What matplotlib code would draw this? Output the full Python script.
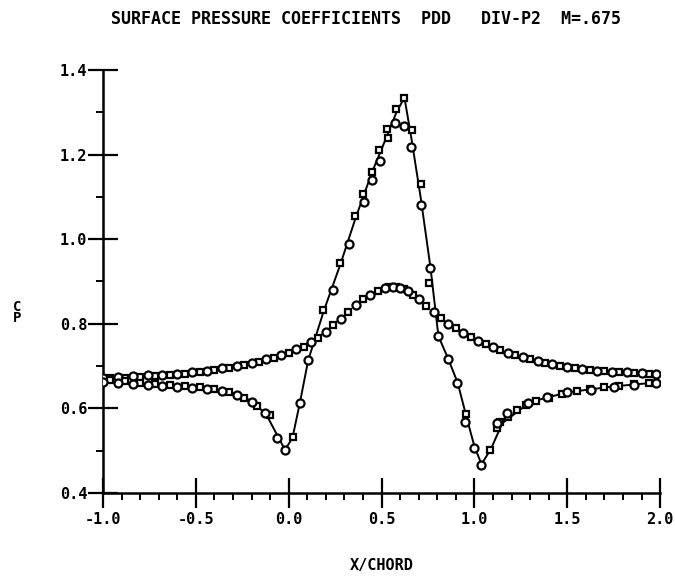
import matplotlib
matplotlib.use("Agg")
import matplotlib.pyplot as plt
from matplotlib.ticker import MultipleLocator, FixedLocator

# ---- data ----
title = "SURFACE PRESSURE COEFFICIENTS  PDD   DIV-P2  M=.675"
x_label = "X/CHORD"
y_label = "C\nP"
x_ticks = [-1.0, -0.5, 0.0, 0.5, 1.0, 1.5, 2.0]
y_ticks = [0.4, 0.6, 0.8, 1.0, 1.2, 1.4]

# computed curve (solid line)
x_line = [-1.0, -0.6, -0.3, -0.2, -0.12, -0.06, -0.02, 0.02, 0.06, 0.105, 0.19, 0.28,
          0.36, 0.45, 0.53, 0.58, 0.623, 0.66, 0.71, 0.763, 0.806, 0.86, 0.91, 0.96,
          1.0, 1.038, 1.09, 1.15, 1.3, 1.5, 1.75, 2.0]
cp_line = [0.664, 0.652, 0.636, 0.618, 0.585, 0.535, 0.502, 0.53, 0.613, 0.714, 0.832, 0.943,
           1.05, 1.16, 1.245, 1.30, 1.335, 1.24, 1.10, 0.934, 0.771, 0.716, 0.66, 0.575,
           0.51, 0.468, 0.505, 0.565, 0.615, 0.638, 0.652, 0.662]

# sharp-peak surface, circle symbols
x_a_circ = [-1.0, -0.92, -0.84, -0.76, -0.68, -0.60, -0.52, -0.44, -0.36, -0.28, -0.20,
            -0.13, -0.062, -0.019, 0.062, 0.105, 0.24, 0.326, 0.407, 0.45, 0.493, 0.574,
            0.623, 0.66, 0.714, 0.763, 0.806, 0.86, 0.908, 0.95, 0.995, 1.038,
            1.124, 1.178, 1.286, 1.39, 1.50, 1.625, 1.75, 1.857, 1.976]
cp_a_circ = [0.662, 0.660, 0.657, 0.655, 0.652, 0.650, 0.648, 0.645, 0.640, 0.632, 0.615,
             0.590, 0.530, 0.501, 0.613, 0.714, 0.879, 0.988, 1.087, 1.139, 1.186, 1.274,
             1.267, 1.217, 1.082, 0.931, 0.771, 0.716, 0.660, 0.568, 0.506, 0.466,
             0.565, 0.589, 0.612, 0.627, 0.638, 0.643, 0.650, 0.655, 0.660]

# sharp-peak surface, square symbols
x_a_sq = [-0.96, -0.88, -0.80, -0.72, -0.64, -0.56, -0.48, -0.40, -0.32, -0.24, -0.17,
          -0.10, 0.024, 0.186, 0.278, 0.358, 0.402, 0.45, 0.488, 0.53, 0.535, 0.579,
          0.623, 0.666, 0.714, 0.757, 0.957, 1.086, 1.124, 1.14, 1.183, 1.23, 1.275,
          1.33, 1.40, 1.47, 1.55, 1.62, 1.70, 1.78, 1.86, 1.94]
cp_a_sq = [0.668, 0.664, 0.660, 0.657, 0.655, 0.652, 0.650, 0.645, 0.638, 0.625, 0.605,
           0.585, 0.532, 0.832, 0.943, 1.056, 1.108, 1.158, 1.212, 1.260, 1.240, 1.309,
           1.335, 1.257, 1.130, 0.896, 0.587, 0.502, 0.553, 0.568, 0.579, 0.596, 0.608,
           0.617, 0.625, 0.633, 0.640, 0.645, 0.650, 0.653, 0.657, 0.660]

# broad-hump surface, circle symbols
x_b_circ = [-1.0, -0.92, -0.84, -0.76, -0.68, -0.60, -0.52, -0.44, -0.36, -0.28, -0.20,
            -0.12, -0.04, 0.04, 0.12, 0.20, 0.28, 0.36, 0.44, 0.52, 0.56, 0.60, 0.64,
            0.70, 0.78, 0.86, 0.94, 1.02, 1.10, 1.18, 1.26, 1.34, 1.42, 1.50, 1.58,
            1.66, 1.74, 1.82, 1.90, 1.98]
cp_b_circ = [0.672, 0.674, 0.676, 0.678, 0.680, 0.682, 0.685, 0.689, 0.695, 0.700, 0.707,
             0.716, 0.726, 0.740, 0.757, 0.780, 0.812, 0.845, 0.868, 0.884, 0.886, 0.884,
             0.877, 0.858, 0.827, 0.800, 0.778, 0.760, 0.745, 0.732, 0.721, 0.712,
             0.704, 0.698, 0.693, 0.689, 0.687, 0.685, 0.683, 0.681]

# broad-hump surface, square symbols
x_b_sq = [-0.96, -0.88, -0.80, -0.72, -0.64, -0.56, -0.48, -0.40, -0.32, -0.24, -0.16,
          -0.08, 0.0, 0.08, 0.16, 0.24, 0.32, 0.40, 0.48, 0.54, 0.58, 0.62, 0.67,
          0.74, 0.82, 0.90, 0.98, 1.06, 1.14, 1.22, 1.30, 1.38, 1.46, 1.54, 1.62,
          1.70, 1.78, 1.86, 1.94]
cp_b_sq = [0.671, 0.673, 0.675, 0.677, 0.679, 0.682, 0.686, 0.690, 0.696, 0.702, 0.710,
           0.720, 0.731, 0.746, 0.766, 0.796, 0.828, 0.858, 0.878, 0.886, 0.886, 0.882,
           0.868, 0.843, 0.813, 0.789, 0.768, 0.752, 0.738, 0.726, 0.716, 0.708,
           0.701, 0.695, 0.691, 0.688, 0.686, 0.684, 0.682]

# ---- plot ----
font = ["DejaVu Sans Mono"]
plt.rcParams["font.family"] = font
plt.rcParams["font.weight"] = "bold"

fig = plt.figure(figsize=(6.75, 5.81), dpi=100)
ax = fig.add_axes([0.1526, 0.1515, 0.8254, 0.728])

ax.plot(x_line, cp_line, color="black", lw=1.4, zorder=2)
mk = dict(ls="none", mfc="white", mec="black", mew=1.6, zorder=3)
ax.plot(x_b_sq, cp_b_sq, marker="s", ms=5, **mk)
ax.plot(x_b_circ, cp_b_circ, marker="o", ms=5.8, **mk)
ax.plot(x_a_sq, cp_a_sq, marker="s", ms=5, **mk)
ax.plot(x_a_circ, cp_a_circ, marker="o", ms=5.8, **mk)

ax.set_xlim(-1.0, 2.0)
ax.set_ylim(0.4, 1.4)
ax.spines["top"].set_visible(False)
ax.spines["right"].set_visible(False)
for s in ("left", "bottom"):
    ax.spines[s].set_linewidth(1.8)

ax.xaxis.set_major_locator(FixedLocator(x_ticks))
ax.yaxis.set_major_locator(FixedLocator(y_ticks))
ax.xaxis.set_minor_locator(MultipleLocator(0.1))
ax.yaxis.set_minor_locator(MultipleLocator(0.1))
ax.set_xticklabels([f"{v:.1f}" for v in x_ticks])
ax.set_yticklabels([f"{v:.1f}" for v in y_ticks])
ax.tick_params(which="major", direction="inout", length=21, width=1.6,
               labelsize=11, pad=1)
ax.tick_params(axis="x", which="major", pad=3)
ax.tick_params(which="minor", direction="out", length=5, width=1.4)

fig.text(0.5415, 0.967, title, ha="center", va="center", fontsize=12,
         fontweight="bold")
fig.text(0.565, 0.013, x_label, ha="center", va="bottom", fontsize=11,
         fontweight="bold")
fig.text(0.026, 0.462, y_label, ha="center", va="center", fontsize=10,
         fontweight="bold", linespacing=0.8)

fig.savefig("out.png", dpi=100)
